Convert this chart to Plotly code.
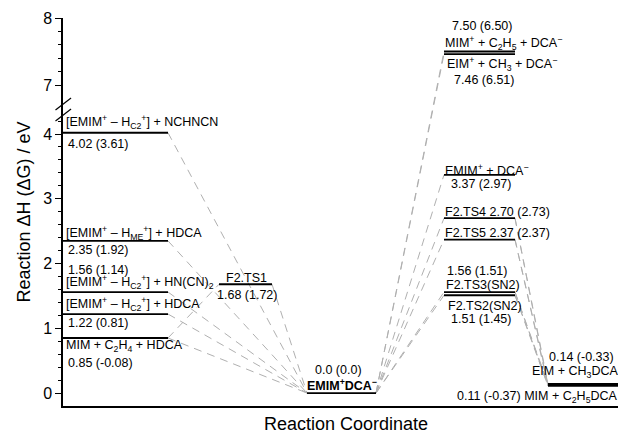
import plotly.graph_objects as go

# ---------------------------------------------------------------------------
# Energetics of EMIM+DCA- decomposition channels: dH in eV, dG in parentheses
# ---------------------------------------------------------------------------
left_species = [
    "[EMIM<sup>+</sup> – H<sub>C2</sub><sup>+</sup>] + NCHNCN",
    "[EMIM<sup>+</sup> – H<sub>ME</sub><sup>+</sup>] + HDCA",
    "[EMIM<sup>+</sup> – H<sub>C2</sub><sup>+</sup>] + HN(CN)<sub>2</sub>",
    "[EMIM<sup>+</sup> – H<sub>C2</sub><sup>+</sup>] + HDCA",
    "MIM + C<sub>2</sub>H<sub>4</sub> + HDCA",
]
left_dH = [4.02, 2.35, 1.56, 1.22, 0.85]
left_dG = [3.61, 1.92, 1.14, 0.81, -0.08]

ts1_name = "F2.TS1"
ts1_dH = 1.68
ts1_dG = 1.72

ref_name = "<b>EMIM<sup>+</sup>DCA<sup>−</sup></b>"
ref_dH = 0.0
ref_dG = 0.0

right_species = [
    "MIM<sup>+</sup> + C<sub>2</sub>H<sub>5</sub> + DCA<sup>−</sup>",
    "EIM<sup>+</sup> + CH<sub>3</sub> + DCA<sup>−</sup>",
    "EMIM<sup>+</sup> + DCA<sup>−</sup>",
    "F2.TS4",
    "F2.TS5",
    "F2.TS3(SN2)",
    "F2.TS2(SN2)",
]
right_dH = [7.50, 7.46, 3.37, 2.70, 2.37, 1.56, 1.51]
right_dG = [6.50, 6.51, 2.97, 2.73, 2.37, 1.51, 1.45]

prod_species = ["EIM + CH<sub>3</sub>DCA", "MIM + C<sub>2</sub>H<sub>5</sub>DCA"]
prod_dH = [0.14, 0.11]
prod_dG = [-0.33, -0.37]

# which right-hand transition states lead down to the neutral products
ts_to_products = [3, 4, 5, 6]

y_major = [0, 1, 2, 3, 4, 7, 8]
y_minor = [round(0.2 * k, 1) for k in range(1, 22) if k % 5] + [7.2, 7.4, 7.6, 7.8]

# ---------------------------------------------------------------------------
# Broken energy axis: the band 4.5 .. 6.7 eV is cut out
# ---------------------------------------------------------------------------
def to_axis(v):
    if v <= 4.5:
        return v
    return 4.757 + (v - 7.0) * 1.0347


def val(h, g, nd=2):
    return f"{h:.{nd}f} ({g:.{nd}f})"


# column extents along the reaction coordinate
COL = {
    "left": (0, 105),
    "ts1": (156, 209),
    "ref": (244, 313),
    "ts": (381, 452),
    "prod": (485, 555),
}

fig = go.Figure()

# --- dashed connectors ------------------------------------------------------
cx, cy = [], []


def connect(x0, e0, x1, e1):
    cx.extend([x0, x1, None])
    cy.extend([to_axis(e0), to_axis(e1), None])


for e in left_dH:
    connect(COL["left"][1], e, COL["ref"][0], ref_dH)
connect(COL["left"][1], left_dH[4], COL["ts1"][0], ts1_dH)
connect(COL["ts1"][1], ts1_dH, COL["ref"][0], ref_dH)
for e in right_dH:
    connect(COL["ref"][1], ref_dH, COL["ts"][0], e)
for i in ts_to_products:
    for p in prod_dH:
        connect(COL["ts"][1], right_dH[i], COL["prod"][0], p)

fig.add_trace(go.Scatter(
    x=cx, y=cy, mode="lines",
    line=dict(color="#b0b0b0", width=1, dash="8px,6px"),
    hoverinfo="skip", showlegend=False,
))

# --- energy levels ------------------------------------------------------------
lx, ly = [], []


def level(col, e):
    x0, x1 = COL[col]
    lx.extend([x0, x1, None])
    ly.extend([to_axis(e), to_axis(e), None])


for e in left_dH:
    level("left", e)
level("ts1", ts1_dH)
level("ref", ref_dH)
for e in right_dH:
    level("ts", e)
for e in prod_dH:
    level("prod", e)

fig.add_trace(go.Scatter(
    x=lx, y=ly, mode="lines",
    line=dict(color="black", width=1.8),
    hoverinfo="skip", showlegend=False,
))

# --- labels -----------------------------------------------------------------
FONT = "Liberation Sans, Arial, sans-serif"
notes = []


def label(text, x, anchor, e, dy, dx=0, size=12.5):
    notes.append(dict(
        text=text, x=x, y=to_axis(e), xref="x", yref="y",
        xanchor=anchor, yanchor="middle", yshift=dy, xshift=dx,
        showarrow=False, font=dict(family=FONT, size=size, color="black"),
    ))


# left column
L = COL["left"][0]
label(left_species[0], L + 1, "left", left_dH[0], 11)
label(val(left_dH[0], left_dG[0]), L + 3, "left", left_dH[0], -11)
label(left_species[1], L + 1, "left", left_dH[1], 8)
label(val(left_dH[1], left_dG[1]), L + 3, "left", left_dH[1], -9)
label(val(left_dH[2], left_dG[2]), L + 3, "left", left_dH[2], 22)
label(left_species[2], L + 1, "left", left_dH[2], 10)
label(left_species[3], L + 1, "left", left_dH[3], 10)
label(val(left_dH[3], left_dG[3]), L + 3, "left", left_dH[3], -9)
label(left_species[4], L + 1, "left", left_dH[4], -8)
label(val(left_dH[4], left_dG[4]), L + 3, "left", left_dH[4], -25)

# first transition state
tc = sum(COL["ts1"]) / 2 + 1
label(ts1_name, tc, "center", ts1_dH, 6)
label(val(ts1_dH, ts1_dG), tc, "center", ts1_dH, -11)

# ion pair reference
rc = sum(COL["ref"]) / 2
label(val(ref_dH, ref_dG, 1), rc - 3, "center", ref_dH, 23)
label(ref_name, rc, "center", ref_dH, 8)

# right transition states / fragments
R = COL["ts"][0]
label(val(right_dH[0], right_dG[0]), R + 38, "center", right_dH[0], 26)
label(right_species[0], R - 1, "left", right_dH[0], 9)
label(right_species[1], R + 1, "left", right_dH[1], -10)
label(val(right_dH[1], right_dG[1]), R + 40, "center", right_dH[1], -26)
label(right_species[2], R - 1, "left", right_dH[2], 5)
label(val(right_dH[2], right_dG[2]), R + 37, "center", right_dH[2], -9)
label(right_species[3] + " " + val(right_dH[3], right_dG[3]), R - 1, "left", right_dH[3], 6)
label(right_species[4] + " " + val(right_dH[4], right_dG[4]), R - 1, "left", right_dH[4], 7)
label(val(right_dH[5], right_dG[5]), R + 33, "center", right_dH[5], 21)
label(right_species[5], R, "left", right_dH[5], 7)
label(right_species[6], R + 2, "left", right_dH[6], -11)
label(val(right_dH[6], right_dG[6]), R + 37, "center", right_dH[6], -24)

# neutral products
P0, P1 = COL["prod"]
label(val(prod_dH[0], prod_dG[0]), P0, "left", prod_dH[0], 27, dx=-1)
label(prod_species[0], P1, "right", prod_dH[0], 12, dx=2)
label(val(prod_dH[1], prod_dG[1]) + " " + prod_species[1], P1, "right", prod_dH[1], -11, dx=2)

# x-axis caption placed just under the axis line
notes.append(dict(
    text="Reaction Coordinate", xref="paper", yref="paper", x=0.5, y=0,
    xanchor="center", yanchor="top", xshift=5, yshift=-6,
    showarrow=False, font=dict(family=FONT, size=18, color="black"),
))

# --- axis break marks -----------------------------------------------------
shapes = []
for y0, y1 in [(4.371, 4.556), (4.201, 4.386)]:
    shapes.append(dict(
        type="line", xref="paper", yref="y",
        x0=-0.0135, x1=0.0145, y0=y0, y1=y1,
        line=dict(color="black", width=1.2),
    ))

fig.update_layout(
    width=618, height=433,
    margin=dict(l=63, r=0, t=18, b=27),
    paper_bgcolor="white", plot_bgcolor="white",
    hovermode=False,
    annotations=notes,
    shapes=shapes,
    font=dict(family=FONT, color="black"),
    xaxis=dict(
        range=[0, 555], showgrid=False, zeroline=False,
        showticklabels=False, ticks="",
        showline=True, linecolor="black", linewidth=1.5,
        automargin=False,
    ),
    yaxis=dict(
        range=[-0.2, to_axis(8)], showgrid=False, zeroline=False,
        showline=True, linecolor="black", linewidth=1.5,
        tickmode="array",
        tickvals=[to_axis(v) for v in y_major],
        ticktext=[str(v) for v in y_major],
        ticks="outside", ticklen=6, tickwidth=1.2, tickcolor="black",
        tickfont=dict(size=16),
        minor=dict(
            tickvals=[to_axis(v) for v in y_minor],
            ticks="outside", ticklen=3, tickwidth=1, tickcolor="black",
        ),
        title=dict(text="Reaction ΔH (ΔG) / eV", font=dict(size=18), standoff=8),
        automargin=False,
    ),
)

fig.write_html("out.html")
